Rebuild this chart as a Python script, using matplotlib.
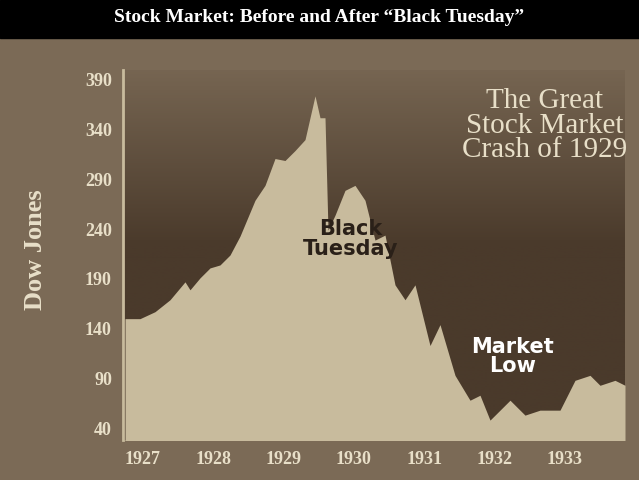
import numpy as np
import matplotlib.pyplot as plt
from matplotlib.colors import LinearSegmentedColormap

# Dow Jones (x in pixel-derived years)
px = [125, 140, 155, 170, 185, 190, 200, 210, 220, 230, 240, 255, 265, 275, 285,
      295, 305, 315, 320, 325, 328, 335, 345, 355, 365, 375, 385, 395, 405, 415,
      430, 440, 455, 470, 480, 490, 500, 510, 525, 540, 560, 575, 590, 600, 615, 625]
dow = [150, 150, 157, 169, 187, 179, 191, 201, 204, 214, 233, 269, 284, 311, 309,
       319, 330, 374, 352, 352, 239, 254, 279, 284, 269, 229, 234, 184, 169, 184,
       123, 144, 93, 68, 73, 48, 58, 68, 53, 58, 58, 88, 93, 83, 88, 83]
years = [1927 + (p - 143) / 70.3 for p in px]

yticks = [40, 90, 140, 190, 240, 290, 340, 390]
xticks = [1927, 1928, 1929, 1930, 1931, 1932, 1933]

BG = '#7b6a56'
DARK = '#4a3a2b'
FILL = '#c8bb9d'
TXT = '#e8dfc8'

fig = plt.figure(figsize=(6.39, 4.8), dpi=100, facecolor=BG)
fig.patches.append(plt.Rectangle((0, 1 - 38 / 480), 1, 38 / 480, transform=fig.transFigure,
                                 color='black', zorder=0))
fig.text(0.5, 1 - 17 / 480, 'Stock Market: Before and After \u201cBlack Tuesday\u201d',
         ha='center', va='center', color='white', fontsize=14, fontweight='bold',
         family='Liberation Serif')

ax = fig.add_axes([123 / 639, 40 / 480, 502 / 639, 370 / 480])
ax.set_facecolor(BG)
x0 = 1927 - 20 / 70.3
x1 = 1927 + (625 - 143) / 70.3
# dark backdrop fading into the page colour near the top
cmap = LinearSegmentedColormap.from_list('bd', [DARK, DARK, BG])
grad = np.linspace(0, 1, 256).reshape(-1, 1)
ax.imshow(grad, cmap=cmap, aspect='auto', extent=(x0, x1, 28, 420), origin='lower', zorder=0)
ax.fill_between(years, dow, 0, color=FILL, lw=0, zorder=1)
ax.set_xlim(x0, x1)
ax.set_ylim(28, 400)
for s in ax.spines.values():
    s.set_visible(False)
ax.spines['left'].set_visible(True)
ax.spines['left'].set_color(FILL)
ax.spines['left'].set_linewidth(2)
ax.set_yticks(yticks)
ax.set_xticks(xticks)
ax.tick_params(length=0, colors=TXT, labelsize=13, pad=8)
for lab in ax.get_xticklabels() + ax.get_yticklabels():
    lab.set_family('Liberation Serif')
    lab.set_fontweight('bold')
fig.text(35 / 639, 1 - 250 / 480, 'Dow Jones', rotation=90, ha='center', va='center',
         color=TXT, fontsize=19, fontweight='bold', family='Liberation Serif')

ax.text(0.84, 0.95, 'The Great\nStock Market\nCrash of 1929', transform=ax.transAxes,
        ha='center', va='top', color=TXT, fontsize=21, linespacing=0.92,
        family='Liberation Serif', zorder=3)
ax.text(1929.95, 230, 'Black\nTuesday', ha='center', va='center', color='#2a2018',
        fontsize=15, fontweight='bold', linespacing=0.95, zorder=3)
ax.text(1932.25, 112, 'Market\nLow', ha='center', va='center', color='white',
        fontsize=15, fontweight='bold', linespacing=0.95, zorder=3)

fig.savefig('out.png', dpi=100, facecolor=BG)
